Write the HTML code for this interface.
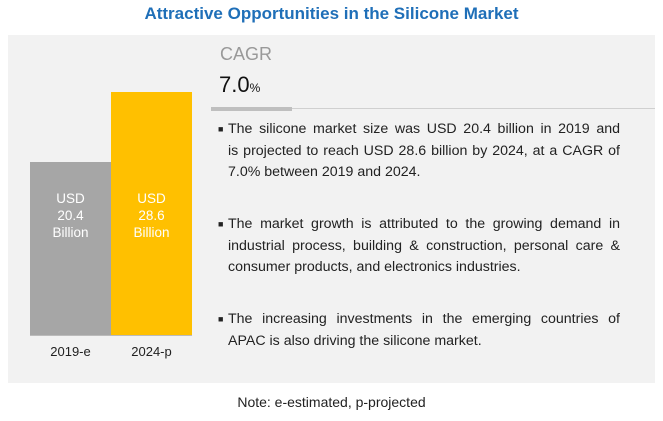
<!DOCTYPE html>
<html><head><meta charset="utf-8"><style>
body{margin:0;width:663px;height:421px;background:#fff;font-family:"Liberation Sans",sans-serif;position:relative;overflow:hidden}
.abs{position:absolute}
#title{left:0;width:663px;top:4px;text-align:center;color:#1f6fb8;font-weight:bold;font-size:17px}
#panel{left:8px;top:35px;width:647px;height:348px;background:#f2f2f2}
.bl{position:absolute;color:#fff;font-size:13.5px;text-align:center;line-height:17px}
.xl{font-size:13px;color:#222;text-align:center;width:81px}
.p{left:228px;width:392px;font-size:14.2px;color:#222;line-height:21.5px}
.p div{text-align:justify;text-align-last:justify;white-space:nowrap}
.p div.l{text-align-last:left}
.p span{position:absolute;left:-10px;font-size:9px}
</style></head><body>
<div id="title" class="abs">Attractive Opportunities in the Silicone Market</div>
<div id="panel" class="abs"></div>
<div id="bars"></div>
<div class="abs" style="left:220px;top:44px;font-size:18px;color:#999">CAGR</div>
<div class="abs" style="left:219px;top:72px;font-size:22px;color:#111">7.0<span style="font-size:12px">%</span></div>
<div class="abs" style="left:211px;top:107px;width:81px;height:4px;background:#bfbfbf"></div>
<div class="abs" style="left:292px;top:108px;width:363px;height:1px;background:#d0d0d0"></div>
<div class="abs p" style="top:119px"><span>■</span><div>The silicone market size was USD 20.4 billion in 2019 and</div><div>is projected to reach USD 28.6 billion by 2024, at a CAGR of</div><div class="l">7.0% between 2019 and 2024.</div></div>
<div class="abs p" style="top:214px"><span>■</span><div>The market growth is attributed to the growing demand in</div><div>industrial process, building &amp; construction, personal care &amp;</div><div class="l">consumer products, and electronics industries.</div></div>
<div class="abs p" style="top:309px"><span>■</span><div>The increasing investments in the emerging countries of</div><div class="l">APAC is also driving the silicone market.</div></div>
<div class="abs" style="left:0;width:663px;top:394px;text-align:center;font-size:14px;color:#222">Note: e-estimated, p-projected</div>
<script>
const categories=["2019-e","2024-p"];
const values=[20.4,28.6];
const colors=["#a6a6a6","#ffc000"];
const base=335, scale=8.5, x0=30, bw=81;
const c=document.getElementById('bars');
values.forEach((v,i)=>{
  const h=v*scale, x=x0+i*bw;
  const b=document.createElement('div');
  b.className='abs';
  b.style.cssText=`left:${x}px;top:${base-h}px;width:${bw}px;height:${h}px;background:${colors[i]}`;
  
  
  c.appendChild(b);
  const l=document.createElement('div');
  l.className='bl';
  l.style.cssText=`left:${x}px;width:${bw}px;top:${base-h+(i?98:28)}px`;
  l.innerHTML='USD<br>'+v.toFixed(1)+'<br>Billion';
  
  
  c.appendChild(l);
  const t=document.createElement('div');
  t.className='abs xl';
  t.style.cssText=`left:${x}px;top:${base+9}px`;
  t.textContent=categories[i];
  
  
  c.appendChild(t);
});
const ax=document.createElement('div');
ax.className='abs';
ax.style.cssText=`left:${x0}px;top:${base}px;width:${bw*2}px;height:1px;background:#bbb`;


c.appendChild(ax);
</script>
</body></html>
